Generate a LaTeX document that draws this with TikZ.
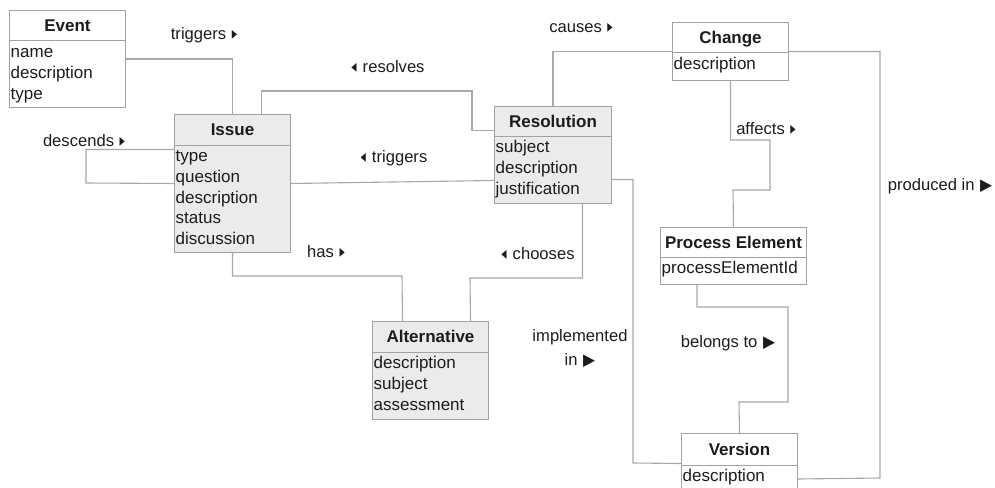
\documentclass[tikz,border=0pt]{standalone}
\usepackage{fontspec}
\setmainfont{Liberation Sans}
\newfontfamily\symf{DejaVu Sans}
\usetikzlibrary{calc}

\definecolor{boxgray}{HTML}{A2A2A2}
\definecolor{linegray}{HTML}{A8A8A8}
\definecolor{shade}{HTML}{EBEBEB}
\definecolor{ink}{HTML}{1C1C1C}

% small and large direction marks for association names
\newcommand\trir{\hspace{1pt}\scalebox{0.62}[1.05]{\symf\fontsize{17}{17}\selectfont\char"25B8}}
\newcommand\tril{\scalebox{0.62}[1.05]{\symf\fontsize{17}{17}\selectfont\char"25C2}\hspace{6pt}}
\newcommand\trib{\hspace{1pt}\scalebox{0.95}[1.0]{\symf\fontsize{16.5}{16.5}\selectfont\char"25B6}}

\tikzset{
  classbox/.style={draw=boxgray, line width=1pt, inner sep=0pt},
  boxline/.style={draw=boxgray, line width=1pt},
  classtitle/.style={anchor=base, inner sep=0pt, text=ink,
    font=\fontsize{17}{20.7}\selectfont\bfseries},
  attrs/.style={anchor=north west, align=left, inner xsep=1.5pt, inner ysep=2pt,
    text=ink, font=\fontsize{17}{20.7}\selectfont},
  conn/.style={draw=linegray, line width=1.1pt},
  assoc/.style={anchor=base, inner sep=0pt, text=ink, align=center,
    font=\fontsize{16.6}{24}\selectfont},
}

% UML class: name, x, y, width, height, title band, fill, title, attributes
\newcommand\umlclass[9]{%
  \node[classbox, fill=#7, minimum width=#4pt, minimum height=#5pt,
        anchor=north west] (#1) at (#2,#3) {};
  \draw[boxline] ([yshift=-#6pt]#1.north west) -- ([yshift=-#6pt]#1.north east);
  \node[classtitle] (#1-title) at ([yshift={-(0.5*#6+6.3)*1pt}]#1.north) {#8};
  \node[attrs] (#1-attrs) at ([yshift=-#6pt]#1.north west) {#9};
}

\begin{document}
\begin{tikzpicture}[x=1pt, y=-1pt]
  \useasboundingbox (0,0) rectangle (995,487);
  \clip (0,0) rectangle (995,487);

  % classes
  \umlclass{event}{9}{10}{116}{97}{31}{white}{Event}
    {\strut name\\\strut description\\\strut type}
  \umlclass{issue}{174}{114}{116}{138}{31}{shade}{Issue}
    {\strut type\\\strut question\\\strut description\\\strut status\\\strut discussion}
  \umlclass{resolution}{494}{106}{117}{97}{30}{shade}{Resolution}
    {\strut subject\\\strut description\\\strut justification}
  \umlclass{change}{672}{22}{116}{58}{31}{white}{Change}
    {\strut description}
  \umlclass{pe}{660}{227}{146}{57}{30}{white}{Process Element}
    {\strut processElementId}
  \umlclass{version}{681}{433}{116}{60}{32}{white}{Version}
    {\strut description}
  \umlclass{alternative}{372}{321}{116}{98}{31}{shade}{Alternative}
    {\strut description\\\strut subject\\\strut assessment}

  % associations
  \draw[conn] (event.east) -| (issue.north);
  \draw[conn] ([xshift=29pt]issue.north) |- (472,91) |- ([yshift=24.5pt]resolution.west);
  \draw[conn] ([yshift=34pt]issue.west) -| (86,183) -- (issue.west);
  \draw[conn] (issue.east) -- ([yshift=-25.5pt]resolution.west);
  \draw[conn] (resolution.north) |- (change.west);
  \draw[conn] (change.south) |- (770,140) |- (733,190) -- (pe.north);
  \draw[conn] (change.east) -| (880,478) -- ([yshift=-15.5pt]version.east);
  \draw[conn] ([xshift=-36.5pt]pe.south) |- (788,307) |- (739,402) -- (version.north);
  \draw[conn] ([yshift=-24.5pt]resolution.east) -| (633,463) -- (version.west);
  \draw[conn] ([xshift=29.5pt]resolution.south) |- (470,278) -- ([xshift=40pt]alternative.north);
  \draw[conn] (issue.south) |- (402,276) -- ([xshift=-28pt]alternative.north);

  % association names
  \node[assoc] (l-trig1) at (204,39.5) {triggers \trir};
  \node[assoc] (l-desc) at (84,146) {descends \trir};
  \node[assoc] (l-res) at (388,72.5) {\tril resolves};
  \node[assoc] (l-trig2) at (394,162.5) {\tril triggers};
  \node[assoc] (l-cause) at (581,32.5) {causes \trir};
  \node[assoc] (l-has) at (326,257.5) {has \trir};
  \node[assoc] (l-choose) at (538,259.5) {\tril chooses};
  \node[assoc] (l-aff) at (766,134.5) {affects \trir};
  \node[assoc] (l-prod) at (940,190.5) {produced in \trib};
  \node[assoc] (l-impl) at (580,365) {implemented\\in \trib};
  \node[assoc] (l-bel) at (728,347.5) {belongs to \trib};
\end{tikzpicture}
\end{document}
